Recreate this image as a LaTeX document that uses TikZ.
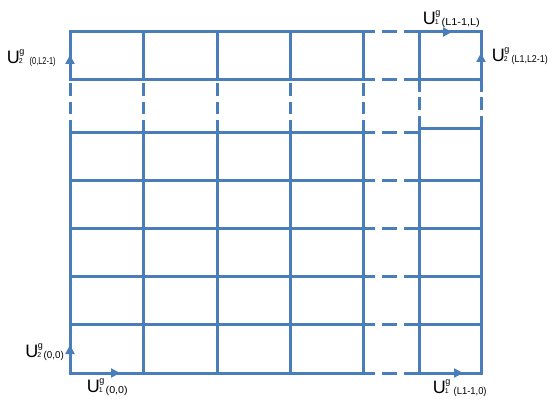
\documentclass[tikz,border=0pt]{standalone}
\usepackage{fontspec}
\setmainfont{Liberation Sans}
\usepackage{graphicx}
\usetikzlibrary{arrows.meta}
\definecolor{gridblue}{HTML}{4A7EBB}
% #1 lower index, #2 argument, #3 horizontal scale of argument, #4 gap
\newcommand\Ulab[4]{{\fontsize{18}{18}\selectfont U}\kern-1pt\rlap{\kern0.5pt\raisebox{9pt}{\fontsize{9}{9}\selectfont g}}{\fontsize{7}{7}\selectfont #1}\kern#4\raisebox{-1pt}{\scalebox{#3}[1]{\fontsize{10}{10}\selectfont(#2)}}}
\begin{document}
\begin{tikzpicture}[x=1pt,y=-1pt,
  gridline/.style={draw=gridblue,line width=3pt,line cap=rect},
  gapline/.style={draw=gridblue,line width=3pt,dash pattern=on 12.5pt off 5.5pt},
  hgap/.style={draw=gridblue,line width=3pt,dash pattern=on 15pt off 7pt},
  vecarrow/.style={draw=gridblue,line width=3pt,-{Triangle[length=9pt,width=9pt]}},
  lab/.style={anchor=base west,inner sep=0pt,text=black}]
\useasboundingbox (0,0) rectangle (553,401);
% main block
\foreach \x in {70,143.5,217,290,363} {
  \draw[gridline] (\x,32) -- (\x,80);
  \draw[gapline] (\x,132) -- (\x,80);
  \draw[gridline] (\x,132) -- (\x,373);
}
\foreach \y in {32,80,132,180.2,228.4,276.6,324.8,373} {
  \draw[gridline] (70,\y) -- (363,\y);
  \draw[hgap] (360,\y) -- (419,\y);
}
% right column
\foreach \x in {419,481} {
  \draw[gridline] (\x,32) -- (\x,80);
  \draw[gapline] (\x,128) -- (\x,80);
  \draw[gridline] (\x,128) -- (\x,373);
}
\foreach \y in {32,80,128,180.2,228.4,276.6,324.8,373} {
  \draw[gridline] (419,\y) -- (481,\y);
}
% arrows
\draw[vecarrow] (70,80) -- (70,55);
\draw[vecarrow] (481,80) -- (481,53);
\draw[vecarrow] (419,32) -- (452,32);
\draw[vecarrow] (70,373) -- (70,345);
\draw[vecarrow] (70,373) -- (120,373);
\draw[vecarrow] (419,373) -- (463,373);
% labels
\node[lab] (l1) at (6.6,64) {\Ulab{2}{0,L2-1}{0.74}{7pt}};
\node[lab] (l2) at (422.6,25) {\Ulab{1}{L1-1,L}{1.09}{3pt}};
\node[lab] (l3) at (491.6,62) {\Ulab{2}{L1,L2-1}{0.89}{4pt}};
\node[lab] (l4) at (25.1,357) {\Ulab{2}{0,0}{0.98}{2.5pt}};
\node[lab] (l5) at (86.6,392) {\Ulab{1}{0,0}{1.07}{3pt}};
\node[lab] (l6) at (432.6,393) {\Ulab{1}{L1-1,0}{0.94}{5pt}};
\end{tikzpicture}
\end{document}
